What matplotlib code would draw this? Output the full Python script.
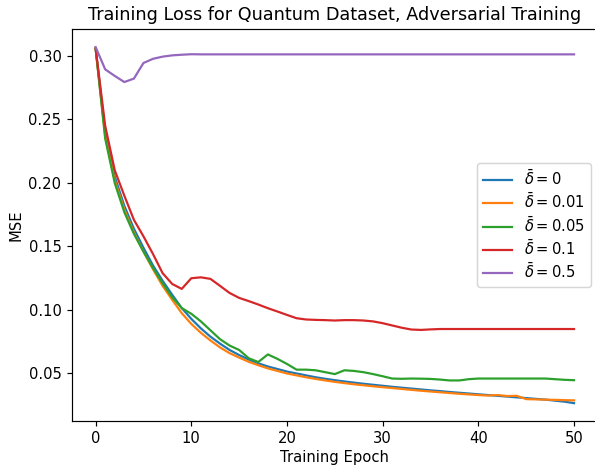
import numpy as np
import matplotlib.pyplot as plt

epochs = np.arange(51)

loss_0 = [0.306, 0.240, 0.205, 0.182, 0.164, 0.149, 0.135, 0.123, 0.112, 0.1015,
          0.093, 0.0855, 0.079, 0.0735, 0.0685, 0.0645, 0.061, 0.058, 0.0555, 0.0535,
          0.0515, 0.050, 0.0485, 0.047, 0.0458, 0.0447, 0.0437, 0.0428, 0.0419, 0.0411,
          0.0403, 0.0395, 0.0388, 0.0381, 0.0374, 0.0367, 0.0361, 0.0354, 0.0348, 0.0342,
          0.0336, 0.0330, 0.0324, 0.0318, 0.0312, 0.0306, 0.0300, 0.0294, 0.0286, 0.0278,
          0.0266]
loss_001 = [0.306, 0.237, 0.202, 0.179, 0.161, 0.146, 0.132, 0.119, 0.108, 0.0975,
            0.089, 0.082, 0.076, 0.0705, 0.066, 0.0625, 0.0592, 0.0565, 0.054, 0.052,
            0.050, 0.0485, 0.047, 0.0457, 0.0445, 0.0434, 0.0424, 0.0415, 0.0407, 0.0399,
            0.0392, 0.0385, 0.0378, 0.0371, 0.0364, 0.0358, 0.0352, 0.0346, 0.0340, 0.0335,
            0.0330, 0.0326, 0.0330, 0.0322, 0.0324, 0.0298, 0.0296, 0.0294, 0.0292, 0.0290,
            0.0288]
loss_005 = [0.306, 0.235, 0.200, 0.177, 0.160, 0.146, 0.133, 0.121, 0.110, 0.1015,
            0.097, 0.091, 0.084, 0.077, 0.072, 0.0685, 0.062, 0.059, 0.065, 0.0615,
            0.0575, 0.053, 0.053, 0.0525, 0.051, 0.0495, 0.0525, 0.052, 0.051, 0.0495,
            0.0478, 0.046, 0.0458, 0.046, 0.0459, 0.0457, 0.0452, 0.0445, 0.0445, 0.0455,
            0.046, 0.046, 0.046, 0.046, 0.046, 0.046, 0.046, 0.046, 0.0455, 0.045,
            0.0447]
loss_01 = [0.306, 0.245, 0.210, 0.190, 0.171, 0.158, 0.144, 0.129, 0.1205, 0.1166,
           0.125, 0.1257, 0.1245, 0.119, 0.1134, 0.1095, 0.107, 0.1043, 0.1014, 0.0988,
           0.0961, 0.0935, 0.0925, 0.0922, 0.092, 0.0917, 0.092, 0.092, 0.0917, 0.091,
           0.0896, 0.0878, 0.086, 0.0846, 0.0843, 0.0847, 0.085, 0.085, 0.085, 0.085,
           0.085, 0.085, 0.085, 0.085, 0.085, 0.085, 0.085, 0.085, 0.085, 0.085,
           0.085]
loss_05 = [0.307, 0.2895, 0.2843, 0.2795, 0.2822, 0.2945, 0.2978, 0.2995, 0.3005, 0.301,
           0.3014] + [0.3013] * 40

series = [loss_0, loss_001, loss_005, loss_01, loss_05]
labels = [r'$\bar{\delta} = 0$', r'$\bar{\delta} = 0.01$', r'$\bar{\delta} = 0.05$',
          r'$\bar{\delta} = 0.1$', r'$\bar{\delta} = 0.5$']

# reference looks like a default figure rendered at a slightly higher dpi
dpi = 106
fig = plt.figure(figsize=(595 / dpi, 466 / dpi), dpi=dpi)
ax = fig.add_axes([0.1205, 0.0966, 0.8845, 0.8405])
for y, lab in zip(series, labels):
    ax.plot(epochs, y, label=lab)

ax.set_title('Training Loss for Quantum Dataset, Adversarial Training')
ax.set_xlabel('Training Epoch', labelpad=2.5)
ax.set_ylabel('MSE', labelpad=3)
ax.legend(loc='center right', labelspacing=0.29)

fig.savefig('out.png', dpi=dpi)
